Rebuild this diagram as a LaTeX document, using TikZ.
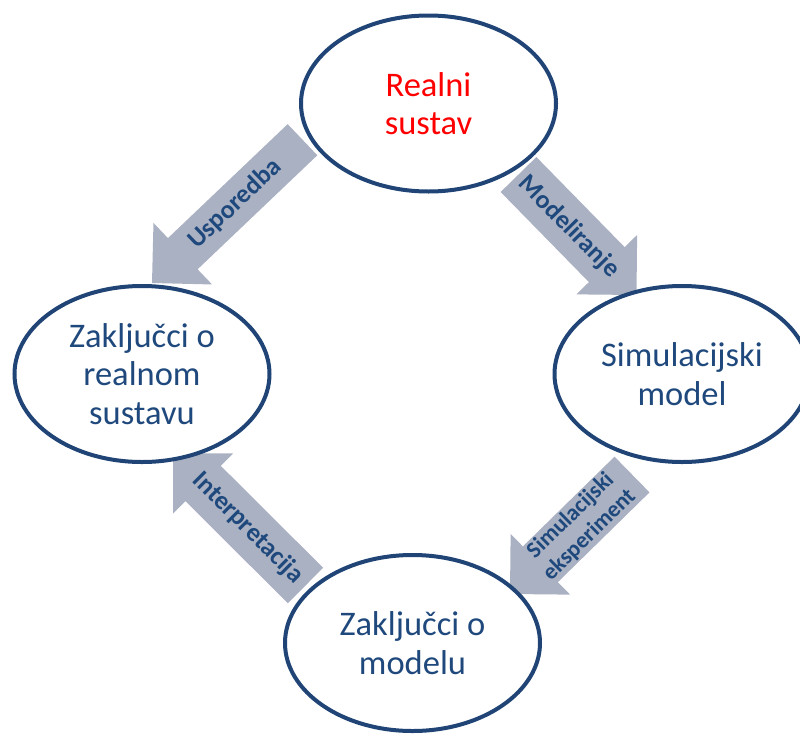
\documentclass[tikz,border=0pt]{standalone}
\usepackage{fontspec}
\setmainfont{Carlito}
\usetikzlibrary{calc,shapes.geometric}
\definecolor{navy}{RGB}{31,68,117}
\definecolor{txtblue}{RGB}{31,73,125}
\definecolor{arrgray}{RGB}{170,177,194}
\tikzset{
  bubble/.style={ellipse, draw=navy, line width=4pt, fill=white, inner sep=0pt,
    minimum width=255pt, minimum height=176pt, align=center, text=txtblue,
    font=\fontsize{34.5}{38.3}\selectfont},
  arrlabel/.style={align=center, text=txtblue, inner sep=0pt,
    font=\bfseries\fontsize{26}{28}\selectfont},
  arrlabelsmall/.style={arrlabel, font=\bfseries\fontsize{23}{27}\selectfont},
  arrbody/.style={fill=arrgray},
}
% #1 tail coordinate, #2 tip coordinate, #3 shaft half width, #4 head half width, #5 head length
\newcommand\blockarrow[5]{%
  \coordinate (#1base) at ($(#2)!#5!(#1)$);
  \fill[arrbody] ($(#1)!#3!90:(#2)$) -- ($(#1base)!#3!90:(#2)$) -- ($(#1base)!#4!90:(#2)$)
    -- (#2) -- ($(#1base)!#4!-90:(#2)$) -- ($(#1base)!#3!-90:(#2)$) -- ($(#1)!#3!-90:(#2)$) -- cycle;}
\begin{document}
\begin{tikzpicture}[x=1pt,y=-1pt]
\useasboundingbox (0,0) rectangle (800,736);
\clip (0,0) rectangle (800,736);
% arrow end points
\coordinate (t1) at (302.5,139.7); \coordinate (p1) at (152,283);
\coordinate (t2) at (518.5,174.5); \coordinate (p2) at (636.5,295);
\coordinate (t3) at (632,474.5);   \coordinate (p3) at (510,594);
\coordinate (t4) at (305.5,585.5); \coordinate (p4) at (173,453.5);
\blockarrow{t1}{p1}{21.5pt}{42.5pt}{42.5pt}
\blockarrow{t2}{p2}{25pt}{42.5pt}{42.5pt}
\blockarrow{t3}{p3}{25pt}{42.5pt}{42.5pt}
\blockarrow{t4}{p4}{25pt}{42.5pt}{42.5pt}
% arrow labels
\node[arrlabel, rotate=43.6] (lab1) at (235,204) {Usporedba};
\node[arrlabel, rotate=-45.6] (lab2) at (569,227) {Modeliranje};
\node[arrlabelsmall, rotate=44.4] (lab3) at (580,525.5) {Simulacijski\\eksperiment};
\node[arrlabel, rotate=-44.9] (lab4) at (248,528) {Interpretacija};
% ellipses
\node[bubble, text=red] (real) at (428.5,103.5) {Realni\\sustav};
\node[bubble] (sim) at (682,374) {Simulacijski\\model};
\node[bubble] (zreal) at (142,374) {Zaključci o\\realnom\\sustavu};
\node[bubble] (zmod) at (412.5,643) {Zaključci o\\modelu};
\end{tikzpicture}
\end{document}
